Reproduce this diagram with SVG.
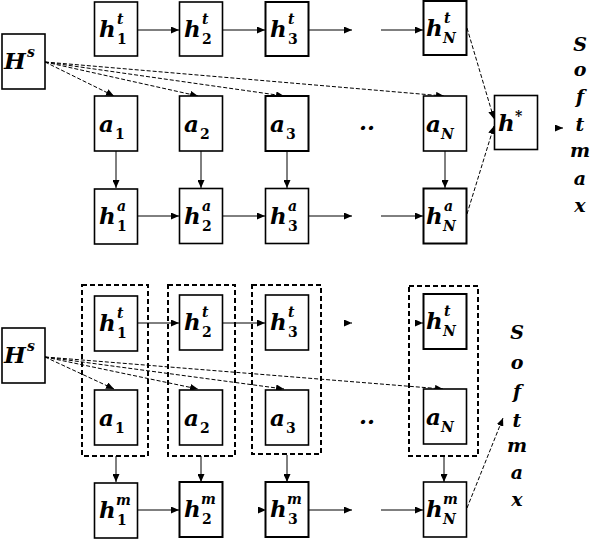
<svg xmlns="http://www.w3.org/2000/svg" width="594" height="540" viewBox="0 0 594 540">
<defs>
<marker id="ah" markerWidth="8" markerHeight="7" refX="8" refY="3.5" orient="auto" markerUnits="userSpaceOnUse">
<path d="M0,0 L8,3.5 L0,7 Z" fill="#000"/>
</marker>
<style>
.box{fill:#fff;stroke:#000;stroke-width:1.6}
.grp{fill:none;stroke:#000;stroke-width:2;stroke-dasharray:5,3}
.m{font-family:"DejaVu Serif","Liberation Serif",serif;font-weight:bold;font-style:italic;font-size:23px;fill:#000}
.s{font-family:"DejaVu Serif","Liberation Serif",serif;font-weight:bold;font-style:italic;font-size:14px;fill:#000}
.n{font-family:"DejaVu Serif","Liberation Serif",serif;font-weight:bold;font-size:14px;fill:#000}
.sm{font-family:"DejaVu Serif","Liberation Serif",serif;font-weight:bold;font-style:italic;font-size:19px;fill:#000;text-anchor:middle}
.c{fill:none;stroke:#000;stroke-width:1;marker-end:url(#ah)}
.d{fill:none;stroke:#000;stroke-width:1;stroke-dasharray:4,2;marker-end:url(#ah)}
</style>
</defs>
<rect width="594" height="540" fill="#fff"/>

<g id="connectors">
<line class="c" x1="138" y1="30" x2="179" y2="30"/>
<line class="c" x1="223" y1="30" x2="265" y2="30"/>
<line class="c" x1="309" y1="30" x2="352" y2="30"/>
<line class="c" x1="381" y1="30" x2="423" y2="30"/>
<line class="c" x1="116" y1="151" x2="116" y2="188"/>
<line class="c" x1="201" y1="151" x2="201" y2="188"/>
<line class="c" x1="287" y1="151" x2="287" y2="188"/>
<line class="c" x1="445" y1="151" x2="445" y2="188"/>
<line class="c" x1="138" y1="216" x2="179" y2="216"/>
<line class="c" x1="223" y1="216" x2="265" y2="216"/>
<line class="c" x1="309" y1="216" x2="352" y2="216"/>
<line class="c" x1="381" y1="216" x2="423" y2="216"/>
<line class="d" x1="45" y1="62" x2="114" y2="96"/>
<line class="d" x1="45" y1="62" x2="198" y2="96"/>
<line class="d" x1="45" y1="62" x2="284" y2="96"/>
<line class="d" x1="45" y1="62" x2="444" y2="96"/>
<line class="d" x1="467" y1="28" x2="494" y2="119"/>
<line class="d" x1="467" y1="214" x2="494" y2="126"/>
<line class="c" x1="555" y1="128" x2="563" y2="128"/>
<line class="c" x1="138" y1="323" x2="179" y2="323"/>
<line class="c" x1="223" y1="323" x2="265" y2="323"/>
<line class="c" x1="351" y1="323" x2="352" y2="323"/>
<line class="c" x1="422" y1="323" x2="423" y2="323"/>
<line class="c" x1="116" y1="456" x2="116" y2="482"/>
<line class="c" x1="201" y1="456" x2="201" y2="482"/>
<line class="c" x1="287" y1="455" x2="287" y2="482"/>
<line class="c" x1="444" y1="456" x2="444" y2="482"/>
<line class="c" x1="138" y1="510" x2="179" y2="510"/>
<line class="c" x1="265" y1="510" x2="266" y2="510"/>
<line class="c" x1="309" y1="510" x2="352" y2="510"/>
<line class="c" x1="381" y1="510" x2="423" y2="510"/>
<line class="d" x1="45" y1="357" x2="114" y2="389"/>
<line class="d" x1="45" y1="357" x2="198" y2="389"/>
<line class="d" x1="45" y1="357" x2="284" y2="389"/>
<line class="d" x1="45" y1="357" x2="443" y2="389"/>
<line class="d" x1="467" y1="508" x2="503" y2="418"/>
</g>

<g id="Hs_top"><rect class="box" x="2" y="34" width="43" height="55"/><text class="m" x="4" y="69">H</text><text class="s" x="27" y="57">s</text></g>
<g id="ht1_top"><rect class="box" x="94.5" y="2" width="43" height="54"/><text class="m" x="99" y="37">h</text><text class="s" x="117" y="24">t</text><text class="n" x="117" y="44">1</text></g>
<g id="ht2_top"><rect class="box" x="179.5" y="2" width="43" height="54"/><text class="m" x="184" y="37">h</text><text class="s" x="202" y="24">t</text><text class="n" x="202" y="44">2</text></g>
<g id="ht3_top"><rect class="box" x="265.5" y="2" width="43" height="54" style="stroke-width:2"/><text class="m" x="270" y="37">h</text><text class="s" x="288" y="24">t</text><text class="n" x="288" y="44">3</text></g>
<g id="htN_top"><rect class="box" x="423.5" y="1" width="43" height="54" style="stroke-width:2"/><text class="m" x="426" y="36">h</text><text class="s" x="444" y="23">t</text><text class="s" x="443" y="43">N</text></g>

<g id="a1_top"><rect class="box" x="94.5" y="96" width="43" height="55"/><text class="m" x="99" y="132">a</text><text class="n" x="115" y="139">1</text></g>
<g id="a2_top"><rect class="box" x="179.5" y="96" width="43" height="55"/><text class="m" x="184" y="132">a</text><text class="n" x="200" y="139">2</text></g>
<g id="a3_top"><rect class="box" x="265.5" y="96" width="43" height="55" style="stroke-width:2"/><text class="m" x="270" y="132">a</text><text class="n" x="286" y="139">3</text></g>
<g id="aN_top"><rect class="box" x="423.5" y="96" width="43" height="55"/><text class="m" x="426" y="132">a</text><text class="s" x="441" y="139">N</text></g>

<g id="ha1"><rect class="box" x="94.5" y="189" width="43" height="55"/><text class="m" x="99" y="224">h</text><text class="s" x="117" y="211">a</text><text class="n" x="117" y="231">1</text></g>
<g id="ha2"><rect class="box" x="179.5" y="188.5" width="43" height="55"/><text class="m" x="184" y="224">h</text><text class="s" x="202" y="211">a</text><text class="n" x="202" y="231">2</text></g>
<g id="ha3"><rect class="box" x="265.5" y="188.5" width="43" height="55"/><text class="m" x="270" y="224">h</text><text class="s" x="288" y="211">a</text><text class="n" x="288" y="231">3</text></g>
<g id="haN"><rect class="box" x="423.5" y="188.5" width="43" height="55" style="stroke-width:2"/><text class="m" x="426" y="224">h</text><text class="s" x="444" y="211">a</text><text class="s" x="443" y="231">N</text></g>

<g id="hstar"><rect class="box" x="494.5" y="95.5" width="43" height="54"/><text class="m" x="498" y="131">h</text><text class="n" x="515" y="121">*</text></g>

<g id="dots_top"><text class="m" x="359" y="130">..</text></g>

<g id="softmax_top">
<text class="sm" x="580" y="51">S</text>
<text class="sm" x="580" y="76">o</text>
<text class="sm" x="580" y="103">f</text>
<text class="sm" x="580" y="131">t</text>
<text class="sm" x="580" y="157">m</text>
<text class="sm" x="580" y="185">a</text>
<text class="sm" x="580" y="212">x</text>
</g>

<g id="grp1"><rect class="grp" x="82" y="285" width="66" height="171"/></g>
<g id="grp2"><rect class="grp" x="168" y="285" width="67" height="171"/></g>
<g id="grp3"><rect class="grp" x="252" y="285" width="69" height="169"/></g>
<g id="grpN"><rect class="grp" x="409" y="286" width="69" height="170"/></g>

<g id="Hs_bot"><rect class="box" x="2" y="328" width="43" height="55"/><text class="m" x="4" y="363">H</text><text class="s" x="27" y="351">s</text></g>
<g id="ht1_bot"><rect class="box" x="94.5" y="296" width="43" height="55"/><text class="m" x="99" y="331">h</text><text class="s" x="117" y="318">t</text><text class="n" x="117" y="338">1</text></g>
<g id="ht2_bot"><rect class="box" x="179.5" y="295" width="43" height="55"/><text class="m" x="184" y="330">h</text><text class="s" x="202" y="317">t</text><text class="n" x="202" y="337">2</text></g>
<g id="ht3_bot"><rect class="box" x="265.5" y="295" width="43" height="55"/><text class="m" x="270" y="330">h</text><text class="s" x="288" y="317">t</text><text class="n" x="288" y="337">3</text></g>
<g id="htN_bot"><rect class="box" x="423.5" y="294" width="43" height="55" style="stroke-width:2"/><text class="m" x="426" y="329">h</text><text class="s" x="444" y="316">t</text><text class="s" x="443" y="336">N</text></g>

<g id="a1_bot"><rect class="box" x="94.5" y="390" width="43" height="55"/><text class="m" x="99" y="426">a</text><text class="n" x="115" y="433">1</text></g>
<g id="a2_bot"><rect class="box" x="179.5" y="390" width="43" height="55"/><text class="m" x="184" y="426">a</text><text class="n" x="200" y="433">2</text></g>
<g id="a3_bot"><rect class="box" x="265.5" y="390" width="43" height="55"/><text class="m" x="270" y="426">a</text><text class="n" x="286" y="433">3</text></g>
<g id="aN_bot"><rect class="box" x="423.5" y="389" width="43" height="55"/><text class="m" x="426" y="425">a</text><text class="s" x="441" y="432">N</text></g>

<g id="hm1"><rect class="box" x="94.5" y="483" width="43" height="55"/><text class="m" x="99" y="518">h</text><text class="s" x="116" y="505">m</text><text class="n" x="117" y="525">1</text></g>
<g id="hm2"><rect class="box" x="179.5" y="482" width="43" height="55" style="stroke-width:2"/><text class="m" x="184" y="517">h</text><text class="s" x="201" y="504">m</text><text class="n" x="202" y="524">2</text></g>
<g id="hm3"><rect class="box" x="265.5" y="482" width="43" height="55" style="stroke-width:2"/><text class="m" x="270" y="517">h</text><text class="s" x="287" y="504">m</text><text class="n" x="288" y="524">3</text></g>
<g id="hmN"><rect class="box" x="423.5" y="482" width="43" height="55"/><text class="m" x="426" y="517">h</text><text class="s" x="443" y="504">m</text><text class="s" x="443" y="524">N</text></g>

<g id="dots_bot"><text class="m" x="359" y="424">..</text></g>

<g id="softmax_bot">
<text class="sm" x="517" y="339">S</text>
<text class="sm" x="517" y="369">o</text>
<text class="sm" x="517" y="398">f</text>
<text class="sm" x="517" y="427">t</text>
<text class="sm" x="517" y="452">m</text>
<text class="sm" x="517" y="479">a</text>
<text class="sm" x="517" y="506">x</text>
</g>
</svg>
